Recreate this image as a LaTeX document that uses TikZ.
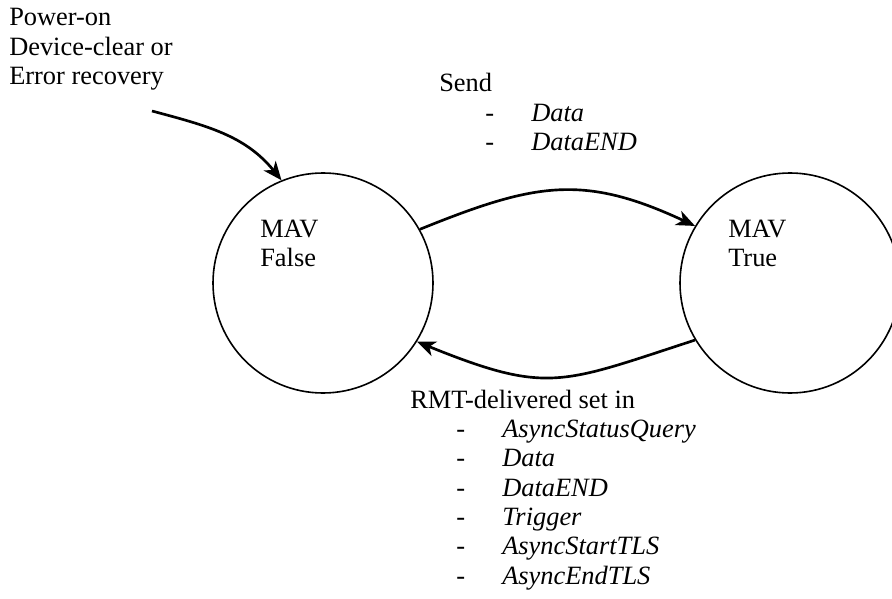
\documentclass[tikz,border=0pt]{standalone}
\usepackage{fontspec}
\setmainfont{Liberation Serif}
\usetikzlibrary{arrows.meta,positioning}
\tikzset{
    mav state/.style={circle, draw, line width=1.2pt, minimum size=165pt, inner sep=0pt},
    plain text/.style={anchor=base west, inner sep=0pt, font=\fontsize{19.8}{22}\selectfont},
    trans/.style={-{Stealth[length=14pt, width=11.5pt, inset=4pt]}, line width=2pt}
}
\newcommand{\dashitem}[1]{\hspace*{34.5pt}\makebox[34.5pt][l]{-}\textit{#1}}

\begin{document}
\begin{tikzpicture}[x=0.75pt, y=0.75pt]
	\useasboundingbox (0,0) rectangle (892,-599);
	% the two states
	\node[mav state] (mavfalse) at (323,-283) {};
	\node[mav state] (mavtrue) at (790,-283) {};
	\node[plain text] (falsetext) at (260,-237) {\begin{tabular}[t]{@{}l@{}}MAV\\False\end{tabular}};
	\node[plain text] (truetext) at (728,-237) {\begin{tabular}[t]{@{}l@{}}MAV\\True\end{tabular}};
	% reset entry
	\node[plain text] (resettext) at (9,-26) {\begin{tabular}[t]{@{}l@{}}Power-on\\Device-clear or\\Error recovery\end{tabular}};
	\coordinate (reset) at (152,-111);
	\draw[trans] (reset) to[out=-15, in=129] (mavfalse.112);
	% transitions
	\draw[trans] (mavfalse.29) to[out=22, in=155, looseness=1.15] (mavtrue.149);
	\draw[trans] (mavtrue.211) to[out=198, in=-22, looseness=1.3] (mavfalse.328);
	\node[plain text] (sendtext) at (439,-92) {\begin{tabular}[t]{@{}l@{}}Send\\
		\dashitem{Data}\\
		\dashitem{DataEND}\end{tabular}};
	\node[plain text] (rmttext) at (410,-408) {\begin{tabular}[t]{@{}l@{}}RMT-delivered set in\\
		\dashitem{AsyncStatusQuery}\\
		\dashitem{Data}\\
		\dashitem{DataEND}\\
		\dashitem{Trigger}\\
		\dashitem{AsyncStartTLS}\\
		\dashitem{AsyncEndTLS}\end{tabular}};
\end{tikzpicture}
\end{document}
